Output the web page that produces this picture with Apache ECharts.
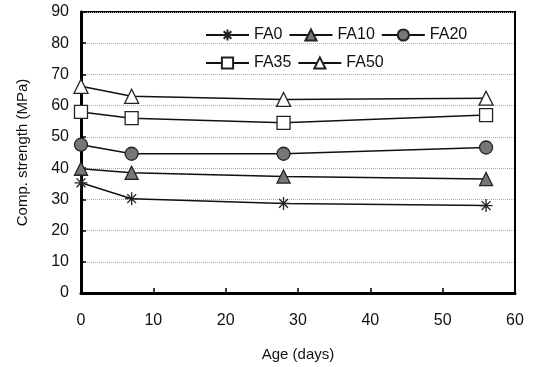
<!DOCTYPE html>
<html><head><meta charset="utf-8">
<script src="https://cdn.jsdelivr.net/npm/echarts@6/dist/echarts.min.js"></script>
<style>html,body{margin:0;padding:0;background:#fff}#c{width:536px;height:367px}</style>
</head><body><div id="c"></div>
<script>
var ages = [0, 7, 28, 56];
var FA0 = [35.3, 30.2, 28.7, 28];
var FA10 = [39.8, 38.5, 37.3, 36.5];
var FA20 = [47.5, 44.6, 44.6, 46.6];
var FA35 = [58, 56, 54.5, 57];
var FA50 = [66.2, 63, 62, 62.4];
var xTicks = [0, 10, 20, 30, 40, 50, 60];
var yTicks = [0, 10, 20, 30, 40, 50, 60, 70, 80, 90];

var FONT = 'Liberation Sans, Arial, sans-serif';
var star = 'path://M5,0L5,10M0,5L10,5M1.6,1.6L8.4,8.4M1.6,8.4L8.4,1.6';
function pts(arr){ return ages.map(function(a,i){ return [a, arr[i]]; }); }
function mk(name, arr, symbol, fill, size){
  return {
    name: name, type: 'line', data: pts(arr), symbol: symbol, symbolSize: size,
    lineStyle: {color: '#111', width: 1.5},
    itemStyle: {color: fill, borderColor: '#222', borderWidth: 1.3},
    emphasis: {disabled: true}, z: 3
  };
}
var chart = echarts.init(document.getElementById('c'));
chart.setOption({
  animation: false,
  backgroundColor: '#fff',
  textStyle: {fontFamily: FONT},
  grid: {left: 81, right: 21, top: 12, bottom: 72, show: true, borderColor: '#000', borderWidth: 2},
  legend: [
    {data: ['FA0', 'FA10', 'FA20'], left: 200, top: 22, itemWidth: 43, itemHeight: 14, itemGap: 6,
     textStyle: {fontSize: 16, color: '#111', fontFamily: FONT}},
    {data: ['FA35', 'FA50'], left: 200, top: 50, itemWidth: 43, itemHeight: 14, itemGap: 6,
     textStyle: {fontSize: 16, color: '#111', fontFamily: FONT}}
  ],
  xAxis: {
    type: 'value', min: xTicks[0], max: xTicks[xTicks.length-1], interval: 10,
    name: 'Age (days)', nameLocation: 'middle', nameGap: 54,
    nameTextStyle: {fontSize: 15, color: '#111', fontFamily: FONT},
    axisLine: {show: true, lineStyle: {color: '#000', width: 3}},
    axisTick: {show: true, inside: true, length: 5, lineStyle: {color: '#000', width: 1.5}},
    axisLabel: {fontSize: 16, color: '#111', margin: 20, fontFamily: FONT},
    splitLine: {show: false}
  },
  yAxis: {
    type: 'value', min: yTicks[0], max: yTicks[yTicks.length-1], interval: 10,
    name: 'Comp. strength (MPa)', nameLocation: 'middle', nameGap: 51, nameRotate: 90,
    nameTextStyle: {fontSize: 15, color: '#111', fontFamily: FONT},
    axisLine: {show: true, lineStyle: {color: '#000', width: 3}},
    axisTick: {show: true, inside: true, length: 5, lineStyle: {color: '#000', width: 1.5}},
    axisLabel: {fontSize: 16, color: '#111', margin: 12, fontFamily: FONT},
    splitLine: {show: true, lineStyle: {color: '#aaa', type: 'dotted', width: 1}}
  },
  series: [
    mk('FA0', FA0, star, '#333', 13),
    mk('FA10', FA10, 'triangle', '#777', 13),
    mk('FA20', FA20, 'circle', '#777', 13),
    mk('FA35', FA35, 'rect', '#fff', 13),
    mk('FA50', FA50, 'triangle', '#fff', 14)
  ]
});
</script></body></html>
